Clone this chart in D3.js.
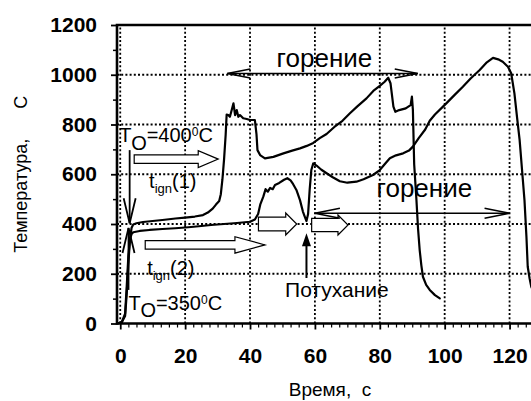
<!DOCTYPE html>
<html><head><meta charset="utf-8">
<script src="https://cdn.jsdelivr.net/npm/d3@7"></script>
<style>
body{margin:0;background:#fff;}
svg{display:block;font-family:"Liberation Sans",Arial,sans-serif;background:#fff;}
</style></head><body>
<svg id="c" width="531" height="401"></svg>
<script>
// ---- data ----
const xTicks = [0, 20, 40, 60, 80, 100, 120];
const yTicks = [0, 200, 400, 600, 800, 1000, 1200];
const xTickLabels = ["0", "20", "40", "60", "80", "100", "120"];
const yTickLabels = ["0", "200", "400", "600", "800", "1000", "1200"];
const xTitle = "Время,  с";
const yTitle = "Температура,      С";

// T0 = 400 C curve (time s, temperature C)
const curve400 = [[-0.8,0],[0.5,6],[1.5,30],[2,120],[2.5,240],[3,340],[3.5,385],[4,398],[5,403],[7,408],[10,412],[13,416],[17,422],[20,426],[23,430],[25.5,436],[27,446],[28.5,462],[29.5,478],[30.5,492],[31,520],[31.5,580],[32,660],[32.5,760],[32.8,840],[33.3,838],[33.8,831],[34.4,860],[34.9,885],[35.4,838],[35.9,858],[36.4,831],[36.9,838],[37.9,825],[39,822],[40,818],[41.5,818],[42,760],[42.3,697],[43.1,677],[44.6,664],[47.2,670],[50.3,684],[53,695],[55.4,704],[57.5,714],[59.5,726],[61.5,745],[63.6,762],[66,790],[68.5,815],[70.8,845],[73,872],[75.9,905],[78,935],[80,955],[81.5,972],[82.6,988],[83.3,966],[84.2,872],[84.8,851],[86,858],[88,865],[89.5,878],[89.9,912],[90.2,860],[90.6,640],[91.3,496],[91.8,380],[92.3,295],[92.8,235],[93.3,188],[94.3,155],[95.4,135],[97,114],[98.5,101]];

// T0 = 350 C curve (time s, temperature C)
const curve350 = [[-0.8,0],[0.5,6],[1.5,40],[2,150],[2.5,270],[3,338],[3.5,360],[4,367],[6,372],[9,376],[13,380],[17,383],[21,387],[25,392],[28,396],[32,400],[36,404],[40,409],[41.5,418],[42.5,440],[43.2,480],[44.1,510],[44.8,540],[45.5,530],[46.2,545],[47,540],[47.7,557],[49,565],[50.5,578],[51.5,584],[52.5,575],[53.3,560],[54.3,537],[55.4,496],[56.3,450],[56.9,429],[57.4,412],[57.9,440],[58.4,540],[58.9,617],[59.5,644],[60.5,635],[62,618],[63.6,604],[65.5,588],[67.7,572],[70,566],[72.8,570],[75,580],[77.9,597],[80,617],[81.5,640],[83.1,664],[85,676],[87.2,684],[89,695],[90.2,711],[92,745],[94,780],[95.4,815],[97,840],[100.5,885],[103,918],[105.6,952],[108,985],[110.8,1019],[113,1050],[114.9,1068],[116.5,1062],[117.9,1052],[119.5,1032],[120.5,1006],[121.5,925],[122.3,830],[123.1,738],[124.1,577],[124.6,496],[125.2,350],[125.6,228],[126.2,180],[126.7,148],[128,110],[130,95]];

// annotations (anchors in data units)
const burnLabels = [{text:"горение", t:48.2, T:1032}, {text:"горение", t:79, T:508}];
const burnSpans = [{t0:33, t1:91.7, T:1005}, {t0:60, t1:120, T:443}];
const hollowArrows = [
  {t0:4.3, t1:30.2, T:661, body:4.2, head:8.5, len:20},
  {t0:7.7, t1:44.6, T:316, body:4.2, head:8.2, len:30},
  {t0:42.6, t1:54.4, T:400, body:6.8, head:11, len:11},
  {t0:59, t1:70.2, T:396, body:6.7, head:10, len:10}
];
const openArrows = [
  {t:2.9, T0:697, T1:403},
  {t:2.55, T0:135, T1:384}
];
const extinctArrow = {t:57.4, T0:183, T1:363};
const extinctLabel = {text:"Потухание", t:50.8, T:108};
const t0Labels = [
  {t:-0.3, T:731, parts:[["T",0,20],["O",8,20],["=400",-8,20],["0",-6,12],["C",6,20]]},
  {t:2.55, T:54, parts:[["T",0,20],["O",7,20],["=350",-7,20],["0",-6,12],["C",6,20]]}
];
const ignLabels = [
  {t:8.9, T:545, parts:[["t",0,20],["ign",5,13],["(1)",-5,20]]},
  {t:8.3, T:195, parts:[["t",0,20],["ign",5,13],["(2)",-5,20]]}
];

// ---- drawing ----
const svg = d3.select("#c");
const x = d3.scaleLinear().domain([-1, 130]).range([117, 542]);
const y = d3.scaleLinear().domain([0, 1200]).range([323.5, 25]);

// gridlines
const grid = svg.append("g").attr("stroke", "#000").attr("stroke-width", 1.8).attr("stroke-dasharray", "2,2.2");
grid.selectAll(".gx").data(xTicks).join("line")
  .attr("x1", d => x(d)).attr("x2", d => x(d)).attr("y1", y(0)).attr("y2", y(1200));
grid.selectAll(".gy").data(yTicks.filter(v => v > 0 && v < 1200)).join("line")
  .attr("x1", x(-1)).attr("x2", x(130)).attr("y1", d => y(d)).attr("y2", d => y(d));

// minor ticks
const minorX = d3.range(0, 131, 2.5).filter(v => v % 20 !== 0);
const minorY = d3.range(100, 1200, 200);
svg.append("g").attr("transform", `translate(0,${y(0)})`)
  .call(d3.axisBottom(x).tickValues(minorX).tickSize(4).tickFormat(""))
  .call(g => g.select(".domain").remove())
  .selectAll("line").attr("stroke-width", 1.2);
svg.append("g").attr("transform", `translate(${x(-1)},0)`)
  .call(d3.axisLeft(y).tickValues(minorY).tickSize(4).tickFormat(""))
  .call(g => g.select(".domain").remove())
  .selectAll("line").attr("stroke-width", 1.5);

// major axes
const xAxis = svg.append("g").attr("transform", `translate(0,${y(0)})`)
  .call(d3.axisBottom(x).tickValues(xTicks).tickSize(6).tickPadding(18.5).tickFormat((d, i) => xTickLabels[i]));
const yAxis = svg.append("g").attr("transform", `translate(${x(-1)},0)`)
  .call(d3.axisLeft(y).tickValues(yTicks).tickSize(6).tickPadding(14).tickFormat((d, i) => yTickLabels[i]));
[xAxis, yAxis].forEach(a => {
  a.select(".domain").remove();
  a.selectAll("line").attr("stroke-width", 1.8);
  a.selectAll("text").attr("font-family", "'Liberation Sans',Arial,sans-serif")
    .attr("font-size", 21).attr("font-weight", "bold").attr("fill", "#000");
});

// frame
svg.append("path")
  .attr("d", `M${x(-1)},${y(0)}V${y(1200)}H${x(130)}V${y(0)}Z`)
  .attr("fill", "none").attr("stroke", "#000").attr("stroke-width", 2.6);

// axis titles
svg.append("text").attr("x", 330).attr("y", 396).attr("text-anchor", "middle")
  .attr("font-size", 19).style("white-space", "pre").text(xTitle);
svg.append("text").attr("transform", `translate(27,${(y(0) + y(1200)) / 2}) rotate(-90)`)
  .attr("text-anchor", "middle").attr("font-size", 18).style("white-space", "pre").text(yTitle);

// curves
const line = d3.line().x(d => x(d[0])).y(d => y(d[1]));
[curve400, curve350].forEach(c => {
  svg.append("path").datum(c).attr("d", line)
    .attr("fill", "none").attr("stroke", "#000").attr("stroke-width", 2.2)
    .attr("stroke-linejoin", "round").attr("stroke-linecap", "round");
});

// hollow block arrows
hollowArrows.forEach(a => {
  const x0 = x(a.t0), x1 = x(a.t1), yc = y(a.T), xh = x1 - a.len;
  const pts = [[x0, yc - a.body], [xh, yc - a.body], [xh, yc - a.head], [x1, yc], [xh, yc + a.head], [xh, yc + a.body], [x0, yc + a.body]];
  svg.append("polygon").attr("points", pts.map(p => p.join(",")).join(" "))
    .attr("fill", "#fff").attr("stroke", "#000").attr("stroke-width", 1.2);
});

// double arrows (open heads)
burnSpans.forEach((s, i) => {
  const x0 = x(s.t0), x1 = x(s.t1), yy = y(s.T), L = i === 0 ? 23 : 25, H = i === 0 ? 4.5 : 5;
  const g = svg.append("g").attr("stroke", "#000").attr("stroke-width", 1.6).attr("fill", "none");
  g.append("line").attr("x1", x0).attr("x2", x1).attr("y1", yy).attr("y2", yy);
  g.append("path").attr("d", `M${x0 + L},${yy - H}L${x0},${yy}L${x0 + L},${yy + H}`);
  g.append("path").attr("d", `M${x1 - L},${yy - H}L${x1},${yy}L${x1 - L},${yy + H}`);
});

// vertical open arrows (ignition)
openArrows.forEach(a => {
  const xx = x(a.t), y0 = y(a.T0), y1 = y(a.T1), dir = y1 > y0 ? -1 : 1;
  const g = svg.append("g").attr("stroke", "#000").attr("stroke-width", 1.8).attr("fill", "none");
  g.append("line").attr("x1", xx).attr("x2", xx).attr("y1", y0).attr("y2", y1);
  g.append("path").attr("d", `M${xx - 6},${y1 + dir * 25}L${xx},${y1}L${xx + 6},${y1 + dir * 25}`);
});

// extinction arrow (filled head)
{
  const xx = x(extinctArrow.t), y0 = y(extinctArrow.T0), y1 = y(extinctArrow.T1);
  svg.append("line").attr("x1", xx).attr("x2", xx).attr("y1", y0).attr("y2", y1 + 10)
    .attr("stroke", "#000").attr("stroke-width", 2);
  svg.append("path").attr("d", `M${xx},${y1}L${xx - 4.5},${y1 + 13}L${xx + 4.5},${y1 + 13}Z`).attr("fill", "#000");
}

// texts
burnLabels.forEach(l => {
  svg.append("text").attr("x", x(l.t)).attr("y", y(l.T)).attr("font-size", 26).text(l.text);
});
svg.append("text").attr("x", x(extinctLabel.t)).attr("y", y(extinctLabel.T)).attr("font-size", 21).text(extinctLabel.text);
[...t0Labels, ...ignLabels].forEach(l => {
  const t = svg.append("text").attr("x", x(l.t)).attr("y", y(l.T));
  l.parts.forEach(p => t.append("tspan").attr("dy", p[1]).attr("font-size", p[2]).text(p[0]));
});
</script>
</body></html>
